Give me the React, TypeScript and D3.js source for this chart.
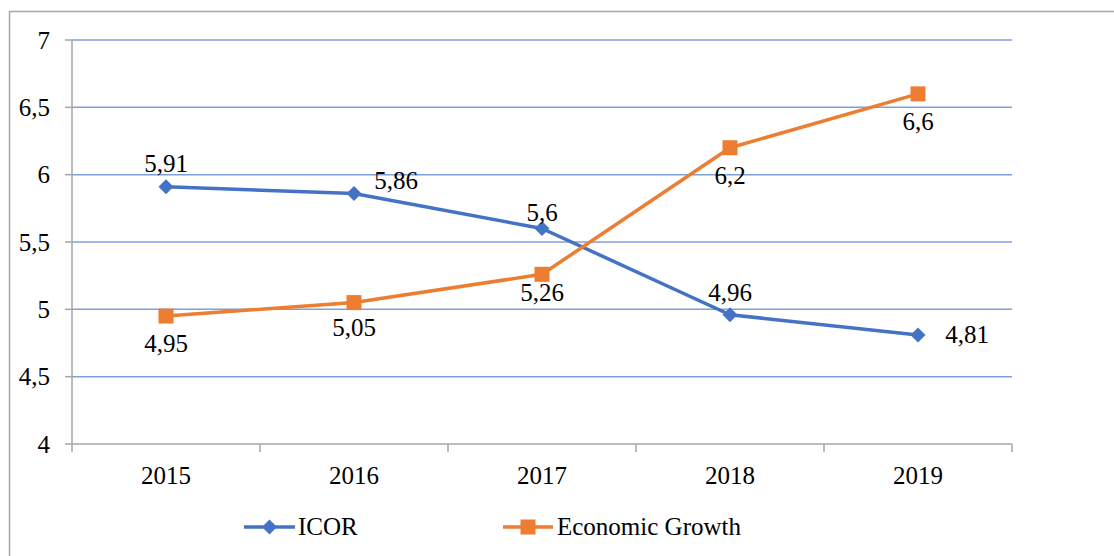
import React from "react";
import * as d3 from "d3";

const years = ["2015", "2016", "2017", "2018", "2019"];
const icor = [5.91, 5.86, 5.6, 4.96, 4.81];
const growth = [4.95, 5.05, 5.26, 6.2, 6.6];
const yTicks = [4, 4.5, 5, 5.5, 6, 6.5, 7];

// label offsets (placement styling, not data)
const icorLabelOffsets: [number, number][] = [[0, -23], [42, -13], [0, -16], [0, -22], [49, 0]];
const growthLabelOffsets: [number, number][] = [[0, 27], [0, 25], [0, 18], [0, 28], [0, 28]];

const W = 1114, H = 556;
const left = 72, right = 1012, top = 40, bottom = 444;
const BLUE = "#4472C4", ORANGE = "#ED7D31";
const FONT = '"Liberation Serif", "Times New Roman", Times, "DejaVu Serif", serif';
const fmt = (v: number) => String(v).replace(".", ",");

export default function App() {
  const x = d3.scaleBand().domain(years).range([left, right]).padding(0);
  const cx = (d: string) => (x(d) as number) + x.bandwidth() / 2;
  const y = d3.scaleLinear().domain([4, 7]).range([bottom, top]);
  const line = d3.line<number>().x((_, i) => cx(years[i])).y((v) => y(v));
  const catEdges = years.map((d) => x(d) as number).concat([right]);

  const diamond = (px: number, py: number, r = 7.5) =>
    `M${px},${py - r}L${px + r},${py}L${px},${py + r}L${px - r},${py}Z`;

  const ts: React.CSSProperties = { fontFamily: FONT, fontSize: "25px" };

  return (
    <svg width={W} height={H} style={{ position: "absolute", left: 0, top: 0, fontFamily: FONT }}>
      <rect x={0} y={0} width={W} height={H} fill="#fff" />
      <rect x={9.5} y={11.5} width={W + 10} height={H + 10} fill="none" stroke="#A6A6A6" strokeWidth={1.5} />
      {yTicks.map((t) => (
        <g key={t}>
          {t > 4 && <line x1={left} x2={right} y1={y(t)} y2={y(t)} stroke="#7F9FD8" strokeWidth={1.5} />}
          <line x1={65} x2={left} y1={y(t)} y2={y(t)} stroke="#A6A6A6" strokeWidth={1.5} />
          <text x={50} y={y(t)} textAnchor="end" dominantBaseline="central" style={ts} fill="#000">
            {fmt(t)}
          </text>
        </g>
      ))}
      <line x1={left} x2={left} y1={top} y2={bottom} stroke="#A6A6A6" strokeWidth={1.5} />
      <line x1={left} x2={right} y1={bottom} y2={bottom} stroke="#A6A6A6" strokeWidth={1.5} />
      {catEdges.map((e, i) => (
        <line key={i} x1={e} x2={e} y1={bottom} y2={452} stroke="#A6A6A6" strokeWidth={1.5} />
      ))}
      {years.map((d) => (
        <text key={d} x={cx(d)} y={475} textAnchor="middle" dominantBaseline="central" style={ts} fill="#000">
          {d}
        </text>
      ))}
      <path d={line(icor) || ""} fill="none" stroke={BLUE} strokeWidth={3.5} strokeLinejoin="round" />
      <path d={line(growth) || ""} fill="none" stroke={ORANGE} strokeWidth={3.5} strokeLinejoin="round" />
      {icor.map((v, i) => (
        <path key={i} d={diamond(cx(years[i]), y(v))} fill={BLUE} />
      ))}
      {growth.map((v, i) => (
        <rect key={i} x={cx(years[i]) - 7.5} y={y(v) - 7.5} width={15} height={15} fill={ORANGE} />
      ))}
      {icor.map((v, i) => (
        <text key={i} x={cx(years[i]) + icorLabelOffsets[i][0]} y={y(v) + icorLabelOffsets[i][1]}
          textAnchor="middle" dominantBaseline="central" style={ts} fill="#000">
          {fmt(v)}
        </text>
      ))}
      {growth.map((v, i) => (
        <text key={i} x={cx(years[i]) + growthLabelOffsets[i][0]} y={y(v) + growthLabelOffsets[i][1]}
          textAnchor="middle" dominantBaseline="central" style={ts} fill="#000">
          {fmt(v)}
        </text>
      ))}
      <g>
        <line x1={244} x2={295} y1={527} y2={527} stroke={BLUE} strokeWidth={3.5} />
        <path d={diamond(269.5, 527)} fill={BLUE} />
        <text x={298} y={526} dominantBaseline="central" style={ts} fill="#000">ICOR</text>
        <line x1={503} x2={553} y1={527} y2={527} stroke={ORANGE} strokeWidth={3.5} />
        <rect x={520.5} y={519.5} width={15} height={15} fill={ORANGE} />
        <text x={557} y={526} dominantBaseline="central" style={ts} fill="#000">Economic Growth</text>
      </g>
    </svg>
  );
}
